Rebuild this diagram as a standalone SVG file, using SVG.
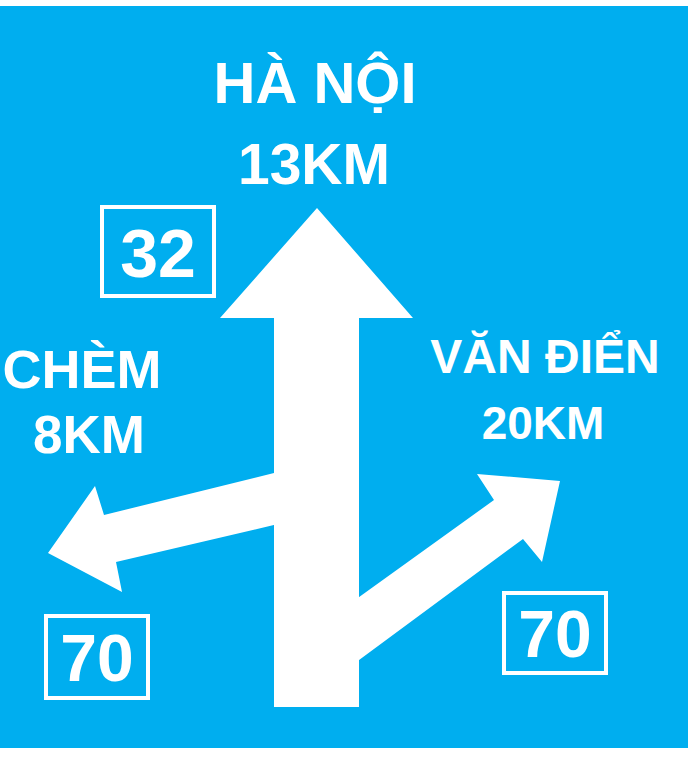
<svg xmlns="http://www.w3.org/2000/svg" width="698" height="759" viewBox="0 0 698 759">
<style>
.t{font-family:"Liberation Sans",Arial,sans-serif;font-weight:bold;fill:#fff;text-anchor:middle}
.box{fill:none;stroke:#fff;stroke-width:4}
.arr{fill:#fff}
</style>
<rect x="0" y="0" width="698" height="759" fill="#fff"/>
<rect id="panel" x="0" y="6" width="688" height="742" fill="#00AEEF"/>
<g id="connectors">
<polygon id="arrow-left" class="arr" points="278,472 104,515 95,486 48,553 122,592 116,562 278,524"/>
<polygon id="arrow-right" class="arr" points="355,600 494,500 477,474 560,481 542,562 523,539 355,663"/>
<polygon id="arrow-up" class="arr" points="317,208 413,318 359,318 359,707 274,707 274,318 220,318"/>
</g>
<g id="hanoi">
<text class="t" x="315" y="103" font-size="58">HÀ NỘI</text>
<text class="t" x="314" y="184" font-size="57">13KM</text>
</g>
<g id="route32">
<rect class="box" x="102" y="207" width="112" height="89"/>
<text class="t" x="158" y="277" font-size="68">32</text>
</g>
<g id="chem">
<text class="t" x="82" y="388" font-size="54">CHÈM</text>
<text class="t" x="89" y="453" font-size="53">8KM</text>
</g>
<g id="vandien">
<text class="t" x="545" y="373" font-size="48">VĂN ĐIỂN</text>
<text class="t" x="543" y="439" font-size="46">20KM</text>
</g>
<g id="speed-left">
<rect class="box" x="46" y="616" width="102" height="82"/>
<text class="t" x="97" y="681" font-size="66">70</text>
</g>
<g id="speed-right">
<rect class="box" x="504" y="593" width="102" height="80"/>
<text class="t" x="555" y="657" font-size="66">70</text>
</g>
</svg>
